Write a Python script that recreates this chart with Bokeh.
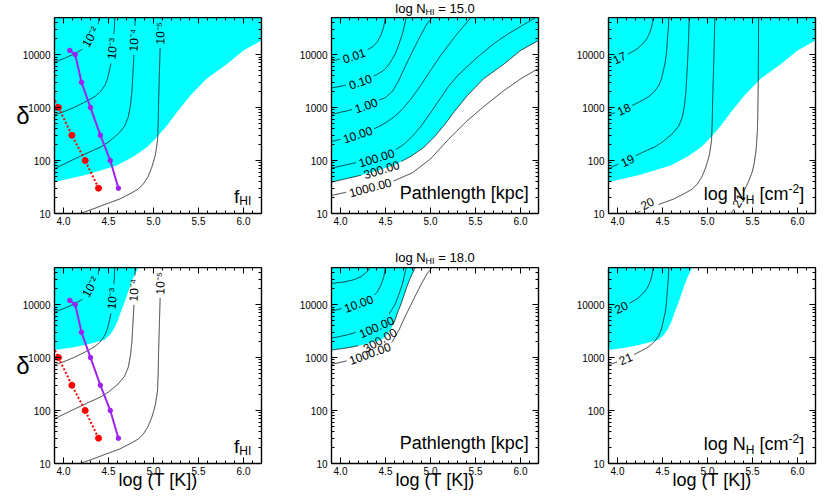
import math
import numpy as np
from bokeh.plotting import figure
from bokeh.models import (Label, LinearAxis, LogAxis, FixedTicker, NumeralTickFormatter,
                          CustomJSTickFormatter, Range1d)
from bokeh.layouts import row, column
from bokeh.embed import file_html
from bokeh.resources import INLINE

FONT = "Liberation Sans"
CYAN = "#00FFFF"
PURPLE = "#A020F0"
RED = "#FF0000"

# ---------------- axes ----------------
X_MIN, X_MAX = 3.9, 6.2
LOGY_MIN, LOGY_MAX = 1.0, 4.7
X_TICKS = [4.0, 4.5, 5.0, 5.5, 6.0]
X_MINOR = [3.9, 4.0, 4.1, 4.2, 4.3, 4.4, 4.5, 4.6, 4.7, 4.8, 4.9, 5.0, 5.1, 5.2, 5.3,
           5.4, 5.5, 5.6, 5.7, 5.8, 5.9, 6.0, 6.1, 6.2]
Y_TICKS = [10, 100, 1000, 10000]
Y_MINOR = [20, 30, 40, 50, 60, 70, 80, 90, 200, 300, 400, 500, 600, 700, 800, 900,
           2000, 3000, 4000, 5000, 6000, 7000, 8000, 9000, 20000, 30000, 40000]
X_LABEL = "log (T [K])"
Y_LABEL = "δ"
ROW_NHI = ["15.0", "18.0"]

# ---------------- data (log T, log delta) ----------------
# f_HI contours (the same curves appear as N_H contours)
FHI_2_T = [3.90, 4.04, 4.15, 4.22, 4.28, 4.33, 4.36, 4.38, 4.39, 4.395]
FHI_2_D = [3.857, 3.951, 4.04, 4.11, 4.20, 4.31, 4.42, 4.53, 4.62, 4.70]
FHI_3_T = [3.90, 4.00, 4.10, 4.20, 4.28, 4.35, 4.41, 4.46, 4.49, 4.51, 4.53, 4.545, 4.555, 4.565, 4.57]
FHI_3_D = [2.86, 2.92, 2.99, 3.07, 3.14, 3.21, 3.30, 3.42, 3.55, 3.70, 3.85, 4.05, 4.30, 4.50, 4.70]
FHI_4_T = [3.90, 4.10, 4.30, 4.41, 4.50, 4.61, 4.68, 4.72, 4.745, 4.76, 4.77, 4.78, 4.79, 4.796]
FHI_4_D = [1.845, 2.01, 2.17, 2.253, 2.35, 2.506, 2.65, 2.82, 3.05, 3.30, 3.60, 3.90, 4.30, 4.70]
FHI_5_T = [4.186, 4.35, 4.482, 4.62, 4.741, 4.83, 4.889, 4.94, 4.982, 5.02, 5.045, 5.052, 5.057, 5.065, 5.075, 5.082]
FHI_5_D = [1.0, 1.10, 1.185, 1.27, 1.374, 1.46, 1.562, 1.70, 1.876, 2.10, 2.379, 2.70, 3.134, 3.60, 4.20, 4.70]
FHI_6_T = [5.26, 5.33, 5.38, 5.41, 5.46, 5.50, 5.52, 5.54, 5.555, 5.562, 5.566, 5.568]
FHI_6_D = [1.0, 1.16, 1.30, 1.44, 1.62, 1.80, 1.96, 2.20, 2.57, 3.20, 4.00, 4.70]

# pathlength contours for log N_HI = 15 (kpc); the same curves are x1000 for log N_HI = 18
L0001_T = [3.90, 4.05, 4.15, 4.23, 4.29, 4.33]
L0001_D = [4.398, 4.43, 4.47, 4.53, 4.61, 4.70]
L001_T = [3.90, 4.00, 4.10, 4.20, 4.30, 4.36, 4.41, 4.45, 4.48, 4.50]
L001_D = [3.875, 3.92, 3.97, 4.03, 4.09, 4.15, 4.24, 4.37, 4.52, 4.70]
L01_T = [3.90, 4.00, 4.10, 4.20, 4.30, 4.40, 4.47, 4.52, 4.57, 4.61, 4.65, 4.69, 4.73]
L01_D = [3.37, 3.40, 3.44, 3.49, 3.55, 3.62, 3.69, 3.77, 3.90, 4.02, 4.20, 4.40, 4.70]
L03_T = [3.90, 4.10, 4.25, 4.40, 4.46, 4.52, 4.56, 4.60, 4.63, 4.67, 4.70, 4.74, 4.78, 4.83]
L03_D = [3.141, 3.19, 3.24, 3.31, 3.34, 3.44, 3.54, 3.68, 3.83, 4.00, 4.15, 4.35, 4.52, 4.70]
L1_T = [3.90, 4.00, 4.10, 4.20, 4.30, 4.40, 4.50, 4.58, 4.65, 4.72, 4.80, 4.88, 4.96, 5.02]
L1_D = [2.87, 2.91, 2.95, 3.00, 3.06, 3.12, 3.19, 3.31, 3.52, 3.78, 4.06, 4.33, 4.58, 4.70]
L10_T = [3.90, 4.00, 4.10, 4.20, 4.30, 4.40, 4.50, 4.60, 4.70, 4.80, 4.90, 5.00, 5.10, 5.20, 5.30, 5.40, 5.45]
L10_D = [2.36, 2.40, 2.44, 2.49, 2.55, 2.62, 2.71, 2.83, 2.99, 3.20, 3.44, 3.70, 3.95, 4.18, 4.40, 4.60, 4.70]
L100_T = [3.90, 4.20, 4.40, 4.60, 4.70, 4.80, 4.90, 5.00, 5.10, 5.20, 5.30, 5.40, 5.50, 5.60, 5.70, 5.80, 5.90, 6.00, 6.10, 6.17]
L100_D = [1.857, 1.97, 2.07, 2.19, 2.30, 2.46, 2.66, 2.90, 3.15, 3.40, 3.60, 3.76, 3.92, 4.06, 4.20, 4.32, 4.43, 4.53, 4.63, 4.70]
L300_T = [3.90, 4.22, 4.41, 4.59, 4.78, 4.93, 5.04, 5.15, 5.26, 5.41, 5.59, 5.82, 6.00, 6.20]
L300_D = [1.593, 1.719, 1.813, 1.908, 2.077, 2.253, 2.442, 2.662, 2.913, 3.228, 3.543, 3.826, 4.077, 4.266]
L1000_T = [3.90, 4.20, 4.40, 4.60, 4.80, 5.00, 5.20, 5.40, 5.60, 5.80, 6.00, 6.20]
L1000_D = [1.342, 1.45, 1.54, 1.62, 1.77, 2.03, 2.40, 2.74, 3.03, 3.30, 3.54, 3.74]

# model tracks
PURPLE_T = [4.07, 4.13, 4.20, 4.30, 4.41, 4.52, 4.61]
PURPLE_DELTA = [12000, 10000, 3000, 1000, 300, 100, 30]
RED_T = [3.81, 3.944, 4.093, 4.241, 4.389]
RED_DELTA = [3000, 1000, 300, 100, 30]

# ---------------- helpers ----------------
PX_X = 207 / (X_MAX - X_MIN)           # px per unit log T
PX_Y = 196 / (LOGY_MAX - LOGY_MIN)     # px per decade

W = {' ': 278, '(': 333, ')': 333, '[': 278, ']': 278, '-': 333, '.': 278, '=': 584,
     'l': 222, 'o': 556, 'g': 556, 'N': 722, 'H': 722, 'I': 278, 'c': 500, 'm': 833,
     'f': 278, 'T': 611, 'K': 667, 'P': 667, 'a': 556, 't': 278, 'h': 556, 'e': 556,
     'n': 556, 'k': 500, 'p': 556}


def text_w(s, size):
    tot = 0
    for ch in s:
        if ch.isdigit():
            tot += 556
        elif ch in W:
            tot += W[ch]
        else:
            tot += 330
    return tot * size / 1000.0


def gapped(ts, logds, labels):
    sx = (np.asarray(ts, float) - X_MIN) * PX_X
    sy = np.asarray(logds, float) * PX_Y
    xs, ys = [sx[0]], [sy[0]]
    for i in range(1, len(sx)):
        n = int(max(2, math.hypot(sx[i] - sx[i - 1], sy[i] - sy[i - 1]) * 2))
        t = np.linspace(0, 1, n + 1)[1:]
        xs.extend(sx[i - 1] + t * (sx[i] - sx[i - 1]))
        ys.extend(sy[i - 1] + t * (sy[i] - sy[i - 1]))
    xs, ys = np.array(xs), np.array(ys)
    keep = np.ones(len(xs), bool)
    for (text, lx, ld, ang) in labels:
        cx, cy = (lx - X_MIN) * PX_X, ld * PX_Y
        a = math.radians(ang)
        w = text_w(text, 12) / 2 + 2.5
        h = 6.5
        dx, dy = xs - cx, ys - cy
        u = dx * math.cos(a) + dy * math.sin(a)
        v = -dx * math.sin(a) + dy * math.cos(a)
        keep &= ~((np.abs(u) < w) & (np.abs(v) < h))
    out_x = np.where(keep, xs / PX_X + X_MIN, np.nan)
    out_y = np.where(keep, 10 ** (ys / PX_Y), np.nan)
    return out_x, out_y


def contour(p, ts, logds, labels=(), color="black"):
    x, y = gapped(ts, logds, labels)
    p.line(x, y, line_color=color, line_width=0.8)
    for (text, lx, ld, ang) in labels:
        p.add_layout(Label(x=lx, y=10 ** ld, text=text, angle=math.radians(ang),
                           text_align="center", text_baseline="middle",
                           text_font=FONT, text_font_size="12px", text_color="black"))


def comp_width(pieces):
    return sum(text_w(s, size) for (s, size, dy) in pieces)


def compose(p, x0, yc, pieces, to_x, to_y):
    """Chain text pieces left to right; x0 in px, yc = vertical centre, dy in px (up)."""
    x = x0
    for (s, size, dy) in pieces:
        stripped = s.lstrip(" ")
        x += text_w(s[:len(s) - len(stripped)], size)
        p.add_layout(Label(x=to_x(x), y=to_y(yc, dy), text=stripped, text_align="left",
                           text_baseline="middle", text_font=FONT,
                           text_font_size=f"{size}px", text_color="black"))
        x += text_w(stripped, size)


def panel_x(px):
    return X_MIN + px / PX_X


def panel_y(px_above_bottom, dy):
    return 10 ** (LOGY_MIN + (px_above_bottom + dy) / PX_Y)


def make_panel(width, height, bl, br, bt, bb, xlabel=False, ylabel=False):
    p = figure(width=width, height=height, x_range=Range1d(X_MIN, X_MAX),
               y_range=Range1d(10 ** LOGY_MIN, 10 ** LOGY_MAX), y_axis_type="log",
               output_backend="svg", toolbar_location=None, title=None,
               min_border_left=bl, min_border_right=br, min_border_top=bt,
               min_border_bottom=bb, background_fill_color="white",
               border_fill_color="white")
    p.outline_line_color = None
    p.grid.visible = False
    top = LinearAxis()
    right = LogAxis()
    p.add_layout(top, "above")
    p.add_layout(right, "right")
    bottom, left = p.below[0], p.left[0]
    for ax, tk in ((bottom, (X_TICKS, X_MINOR)), (top, (X_TICKS, X_MINOR)),
                   (left, (Y_TICKS, Y_MINOR)), (right, (Y_TICKS, Y_MINOR))):
        ax.ticker = FixedTicker(ticks=tk[0], minor_ticks=tk[1])
        ax.major_tick_in = 6
        ax.major_tick_out = 0
        ax.minor_tick_in = 3
        ax.minor_tick_out = 0
        ax.axis_line_width = 1.4
        ax.axis_line_color = "black"
        ax.major_tick_line_color = "black"
        ax.minor_tick_line_color = "black"
        ax.major_tick_line_width = 1
        ax.minor_tick_line_width = 1
        ax.major_label_text_font = FONT
        ax.major_label_text_font_size = "10px"
        ax.major_label_text_color = "black"
    bottom.formatter = NumeralTickFormatter(format="0.0")
    left.formatter = NumeralTickFormatter(format="0")
    bottom.major_label_standoff = 3
    left.major_label_standoff = 4
    for ax in (top, right):
        ax.formatter = CustomJSTickFormatter(code="return ''")
        ax.major_label_standoff = 0
        ax.major_label_text_font_size = "0px"
    if xlabel:
        bottom.axis_label = X_LABEL
        bottom.axis_label_text_font = FONT
        bottom.axis_label_text_font_size = "18px"
        bottom.axis_label_text_font_style = "normal"
        bottom.axis_label_text_color = "black"
        bottom.axis_label_standoff = -8
    if ylabel:
        left.axis_label = Y_LABEL
        left.axis_label_orientation = "horizontal"
        left.axis_label_text_font = FONT
        left.axis_label_text_font_size = "24px"
        left.axis_label_text_font_style = "normal"
        left.axis_label_text_color = "black"
        left.axis_label_standoff = -10
    return p


def make_strip(width, height):
    s = figure(width=width, height=height, x_range=Range1d(0, width),
               y_range=Range1d(0, height), x_axis_type=None, y_axis_type=None,
               output_backend="svg", toolbar_location=None, title=None,
               min_border_left=0, min_border_right=0, min_border_top=0,
               min_border_bottom=0, background_fill_color="white",
               border_fill_color="white")
    s.outline_line_color = None
    return s


def cyan(p, ts, logds):
    y1 = [10 ** d for d in logds]
    y2 = [10 ** (LOGY_MAX + 0.5)] * len(ts)
    p.varea(x=ts, y1=y1, y2=y2, fill_color=CYAN)


def tracks(p):
    p.line(PURPLE_T, PURPLE_DELTA, line_color=PURPLE, line_width=2)
    p.scatter(PURPLE_T, PURPLE_DELTA, size=4.5, color=PURPLE)
    p.line(RED_T, RED_DELTA, line_color=RED, line_width=2, line_dash="2 2")
    p.scatter(RED_T, RED_DELTA, size=6, color=RED)


TOTAL_W = 830
COLS = [(296, 54, 35), (276, 35, 34), (258, 36, 15)]
ROWS = [(223, 0, 27), (225, 0, 29)]
STRIPS = [(17, 8.0), (27, 16.7)]       # (height, title centre measured from strip top)
TITLE_CX = 434.5                       # centre of middle panel frame (px)

items = []
for r, (h, bt, bb) in enumerate(ROWS):
    sh, yc = STRIPS[r]
    st = make_strip(TOTAL_W, sh)
    tp = [("log N", 13, 0), ("HI", 9, -3.5), (" = " + ROW_NHI[r], 13, 0)]
    compose(st, TITLE_CX - comp_width(tp) / 2, sh - yc, tp,
            lambda v: v, lambda y, dy: y + dy)
    items.append(st)
    rowfigs = []
    for c, (w, bl, br) in enumerate(COLS):
        p = make_panel(w, h, bl, br, bt, bb, xlabel=(r == 1), ylabel=(c == 0))
        if r == 0:
            cyan(p, L300_T, L300_D)
        else:
            cyan(p, L03_T, L03_D)
        if c == 0:
            fl = [("10⁻²", 4.30, 4.33, 60), ("10⁻³", 4.545, 4.11, 84),
                  ("10⁻⁴", 4.785, 4.27, 87), ("10⁻⁵", 5.078, 4.40, 88)]
            contour(p, FHI_2_T, FHI_2_D, [fl[0]])
            contour(p, FHI_3_T, FHI_3_D, [fl[1]])
            contour(p, FHI_4_T, FHI_4_D, [fl[2]])
            contour(p, FHI_5_T, FHI_5_D, [fl[3]])
            tracks(p)
            pieces = [("f", 19, 0), ("HI", 12, -4.5)]
            compose(p, 179.5, 17.5, pieces, panel_x, panel_y)
        elif c == 1:
            if r == 0:
                contour(p, L001_T, L001_D, [("0.01", 4.15, 3.98, 19)])
                contour(p, L01_T, L01_D, [("0.10", 4.22, 3.49, 19)])
                contour(p, L1_T, L1_D, [("1.00", 4.285, 3.04, 19)])
                contour(p, L10_T, L10_D, [("10.00", 4.19, 2.49, 18)])
                contour(p, L100_T, L100_D, [("100.00", 4.40, 2.05, 17)])
                contour(p, L300_T, L300_D, [("300.00", 4.456, 1.83, 17)])
                contour(p, L1000_T, L1000_D, [("1000.00", 4.33, 1.49, 15)])
            else:
                contour(p, L0001_T, L0001_D)
                contour(p, L001_T, L001_D, [("10.00", 4.20, 4.02, 20)])
                contour(p, L01_T, L01_D, [("100.00", 4.40, 3.58, 24)])
                contour(p, L03_T, L03_D, [("300.00", 4.437, 3.33, 30)])
                contour(p, L1_T, L1_D, [("1000.00", 4.326, 3.08, 20)])
            pieces = [("Pathlength [kpc]", 18, 0)]
            compose(p, 197.3 - comp_width(pieces), 20.5, pieces, panel_x, panel_y)
        else:
            if r == 0:
                contour(p, FHI_2_T, FHI_2_D, [("17", 4.02, 3.94, 25)])
                contour(p, FHI_3_T, FHI_3_D, [("18", 4.07, 2.97, 24)])
                contour(p, FHI_4_T, FHI_4_D, [("19", 4.11, 2.00, 25)])
                contour(p, FHI_5_T, FHI_5_D, [("20", 4.33, 1.19, 28)])
                contour(p, FHI_6_T, FHI_6_D, [("21", 5.345, 1.24, 60)])
            else:
                contour(p, FHI_2_T, FHI_2_D, [("20", 4.04, 3.95, 25)])
                contour(p, FHI_3_T, FHI_3_D, [("21", 4.09, 2.98, 24)])
            pieces = [("log N", 18, 0), ("H", 12, -6), (" [cm", 18, 0), ("-2", 12, 6), ("]", 18, 0)]
            compose(p, 195.7 - comp_width(pieces), 19.5, pieces, panel_x, panel_y)
        rowfigs.append(p)
    items.append(row(*rowfigs, spacing=0))

layout = column(*items, spacing=0)

open("out.html", "w").write(file_html(layout, INLINE))
